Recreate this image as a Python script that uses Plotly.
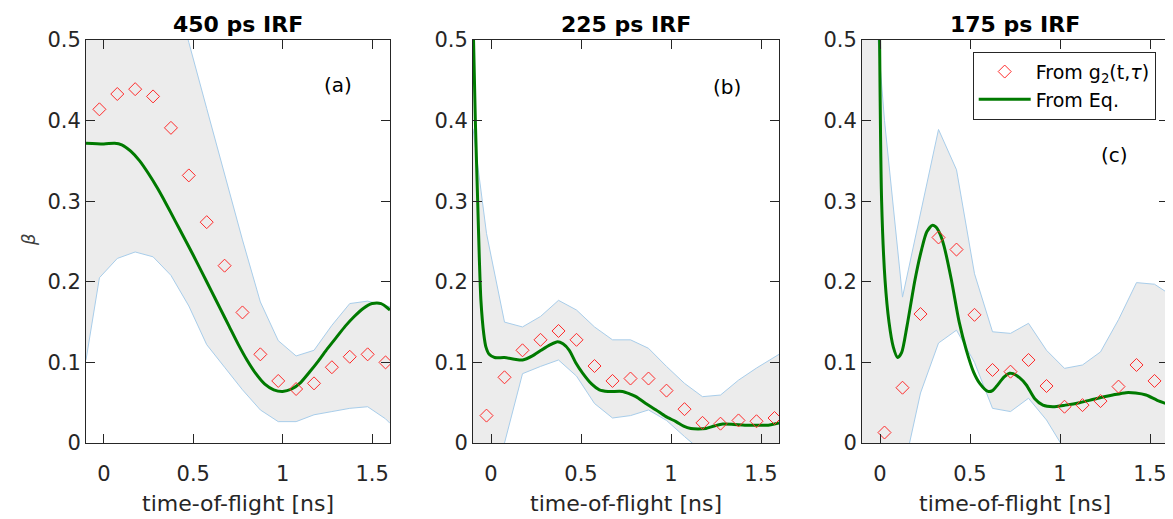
import plotly.graph_objects as go

# ---------------- data ----------------
panel_titles = ["450 ps IRF", "225 ps IRF", "175 ps IRF"]
panel_labels = ["(a)", "(b)", "(c)"]
x_ticks = [0, 0.5, 1, 1.5]
x_tick_text = ["0", "0.5", "1", "1.5"]
y_ticks = [0, 0.1, 0.2, 0.3, 0.4, 0.5]
y_tick_text = ["0", "0.1", "0.2", "0.3", "0.4", "0.5"]

# panel (a)
a_marker_t = [-0.025, 0.075, 0.175, 0.275, 0.375, 0.475, 0.575, 0.675, 0.775,
              0.875, 0.975, 1.075, 1.175, 1.275, 1.375, 1.475, 1.575]
a_marker_b = [0.414, 0.433, 0.439, 0.430, 0.391, 0.332, 0.274, 0.220, 0.162,
              0.110, 0.077, 0.067, 0.074, 0.094, 0.107, 0.110, 0.100]
a_line_t = [-0.1, 0.0, 0.06, 0.1, 0.15, 0.2, 0.25, 0.3, 0.35, 0.4, 0.45, 0.5, 0.55,
            0.6, 0.65, 0.7, 0.75, 0.8, 0.85, 0.9, 0.95, 1.0, 1.05, 1.1, 1.15, 1.2,
            1.25, 1.3, 1.35, 1.4, 1.45, 1.5, 1.55, 1.6]
a_line_b = [0.372, 0.371, 0.372, 0.370, 0.362, 0.350, 0.334, 0.316, 0.296, 0.275,
            0.254, 0.233, 0.211, 0.189, 0.167, 0.145, 0.123, 0.103, 0.086, 0.073,
            0.066, 0.064, 0.067, 0.075, 0.088, 0.102, 0.117, 0.131, 0.145, 0.157,
            0.167, 0.173, 0.173, 0.165]
a_band_t = [-0.1, -0.025, 0.075, 0.175, 0.275, 0.375, 0.475, 0.575, 0.675, 0.775,
            0.875, 0.975, 1.075, 1.175, 1.275, 1.375, 1.475, 1.575, 1.6]
a_band_hi = [0.90, 0.86, 0.80, 0.74, 0.66, 0.58, 0.497, 0.415, 0.334, 0.252,
             0.175, 0.127, 0.108, 0.115, 0.146, 0.173, 0.176, 0.170, 0.169]
a_band_lo = [0.103, 0.205, 0.229, 0.237, 0.231, 0.208, 0.170, 0.122, 0.094, 0.066,
             0.041, 0.0265, 0.0265, 0.035, 0.039, 0.043, 0.045, 0.030, 0.0244]

# panel (b)
b_marker_t = a_marker_t
b_marker_b = [0.034, 0.0815, 0.115, 0.128, 0.139, 0.128, 0.0955, 0.077, 0.080,
              0.080, 0.065, 0.042, 0.025, 0.024, 0.028, 0.027, 0.031]
b_line_t = [-0.099, -0.087, -0.074, -0.065, -0.056, -0.04, -0.028, -0.01, 0.02, 0.074,
            0.13, 0.176, 0.23, 0.278, 0.33, 0.37, 0.40, 0.435, 0.47, 0.51, 0.56, 0.602,
            0.65, 0.73, 0.77, 0.805, 0.86, 0.917, 0.97, 1.028, 1.07, 1.11, 1.15, 1.194,
            1.24, 1.287, 1.35, 1.41, 1.47, 1.53, 1.6]
b_line_b = [0.52, 0.40, 0.30, 0.23, 0.177, 0.135, 0.119, 0.110, 0.106, 0.106,
            0.104, 0.103, 0.108, 0.115, 0.122, 0.1257, 0.123, 0.115, 0.100, 0.0865, 0.073, 0.066,
            0.064, 0.064, 0.061, 0.0575, 0.049, 0.041, 0.033, 0.0265, 0.021, 0.018, 0.0175, 0.018,
            0.021, 0.0236, 0.023, 0.022, 0.022, 0.022, 0.025]
b_band_t = a_band_t
b_band_hi = [0.39, 0.26, 0.150, 0.144, 0.157, 0.177, 0.165, 0.144, 0.128, 0.128,
             0.1175, 0.095, 0.074, 0.0575, 0.0595, 0.078, 0.093, 0.107, 0.110]
b_band_lo = [-0.20, -0.09, 0.0, 0.086, 0.095, 0.103, 0.083, 0.049, 0.031, 0.034,
             0.041, 0.028, 0.008, -0.012, -0.03, -0.04, -0.05, -0.06, -0.065]

# panel (c)
c_marker_t = [0.025, 0.125, 0.225, 0.325, 0.425, 0.525, 0.625, 0.725, 0.825,
              0.925, 1.025, 1.125, 1.225, 1.325, 1.425, 1.525]
c_marker_b = [0.013, 0.0686, 0.160, 0.255, 0.240, 0.159, 0.0906, 0.0885, 0.103,
              0.0707, 0.045, 0.047, 0.052, 0.070, 0.0968, 0.077]
c_line_t = [-0.003, 0.009, 0.028, 0.05, 0.074, 0.098, 0.12, 0.15, 0.194, 0.231, 0.26,
            0.29, 0.31, 0.332, 0.355, 0.397, 0.44, 0.48, 0.52, 0.554, 0.6, 0.625, 0.646,
            0.69, 0.72, 0.739, 0.775, 0.813, 0.86, 0.905, 0.96, 1.03, 1.108, 1.2, 1.293,
            1.367, 1.42, 1.478, 1.54, 1.6]
c_line_b = [0.52, 0.30, 0.202, 0.150, 0.119, 0.106, 0.112, 0.145, 0.202, 0.240, 0.262,
            0.270, 0.268, 0.260, 0.245, 0.202, 0.150, 0.115, 0.088, 0.074, 0.064, 0.065, 0.070,
            0.082, 0.0865, 0.086, 0.081, 0.072, 0.055, 0.047, 0.045, 0.047, 0.050, 0.055, 0.0595,
            0.0625, 0.062, 0.0595, 0.053, 0.048]
c_band_t = [-0.1, 0.025, 0.125, 0.225, 0.325, 0.425, 0.525, 0.625, 0.725, 0.825,
            0.925, 1.025, 1.125, 1.225, 1.325, 1.425, 1.525, 1.6]
c_band_hi = [0.75, 0.40, 0.181, 0.285, 0.389, 0.339, 0.210, 0.138, 0.136, 0.1485,
             0.115, 0.0926, 0.0968, 0.113, 0.153, 0.199, 0.197, 0.186]
c_band_lo = [-0.30, -0.20, -0.04, 0.062, 0.124, 0.140, 0.100, 0.043, 0.039, 0.0555,
             0.0285, -0.008, -0.05, -0.06, -0.07, -0.08, -0.09, -0.10]

panels = [
    (a_marker_t, a_marker_b, a_line_t, a_line_b, a_band_t, a_band_hi, a_band_lo),
    (b_marker_t, b_marker_b, b_line_t, b_line_b, b_band_t, b_band_hi, b_band_lo),
    (c_marker_t, c_marker_b, c_line_t, c_line_b, c_band_t, c_band_hi, c_band_lo),
]
label_pos = [(1.307, 0.444), (1.313, 0.442), (1.302, 0.357)]

# ---------------- style ----------------
W, H = 1173, 519
OFF = 8  # page body margin
FONT = "DejaVu Sans"
AX = "#262626"
GREEN = "#007a00"
RED = "#ff2a2a"
EDGE = "#a8cdea"
FILL = "#ececec"


def px(xp):
    return (xp - OFF) / W


def py(yp):
    return 1 - (yp - OFF) / H


x_dom_px = [(86, 390), (473, 779), (862, 1168)]
y_dom = [py(443), py(40)]

fig = go.Figure()
for i, (mt, mb, lt, lb, bt, bh, bl) in enumerate(panels):
    xa = "x" if i == 0 else f"x{i+1}"
    ya = "y" if i == 0 else f"y{i+1}"
    fig.add_trace(go.Scatter(x=list(bt) + list(bt)[::-1], y=list(bh) + list(bl)[::-1],
                             fill="toself", fillcolor=FILL, mode="lines",
                             line=dict(width=0), hoverinfo="skip", showlegend=False,
                             xaxis=xa, yaxis=ya))
    fig.add_trace(go.Scatter(x=bt, y=bh, mode="lines", line=dict(color=EDGE, width=1),
                             showlegend=False, xaxis=xa, yaxis=ya))
    fig.add_trace(go.Scatter(x=bt, y=bl, mode="lines", line=dict(color=EDGE, width=1),
                             showlegend=False, xaxis=xa, yaxis=ya))
    fig.add_trace(go.Scatter(x=lt, y=lb, mode="lines", name="From Eq.",
                             line=dict(color=GREEN, width=3, shape="spline", smoothing=0.7),
                             showlegend=(i == 2), legendrank=2, xaxis=xa, yaxis=ya))
    fig.add_trace(go.Scatter(x=mt, y=mb, mode="markers", name="From g<sub>2</sub>(t,<i>τ</i>)",
                             marker=dict(symbol="diamond-open", size=10, color=RED,
                                         line=dict(color=RED, width=1)),
                             showlegend=(i == 2), legendrank=1, xaxis=xa, yaxis=ya))

    x0, x1 = x_dom_px[i]
    axcommon = dict(showline=True, linecolor=AX, linewidth=1, mirror="ticks",
                    ticks="inside", ticklen=9, tickcolor=AX, tickwidth=1,
                    showgrid=False, zeroline=False, automargin=False,
                    tickfont=dict(family=FONT, size=21, color=AX))
    fig.update_layout(**{
        ("xaxis" if i == 0 else f"xaxis{i+1}"): dict(
            domain=[px(x0), px(x1)], range=[-0.1, 1.6], anchor=ya,
            tickvals=x_ticks, ticktext=x_tick_text, ticklabelstandoff=12, **axcommon),
        ("yaxis" if i == 0 else f"yaxis{i+1}"): dict(
            domain=y_dom, range=[0, 0.5], anchor=xa,
            tickvals=y_ticks, ticktext=y_tick_text, ticklabelstandoff=0, **axcommon),
    })
    cx = px((x0 + x1) / 2)
    fig.add_annotation(x=cx, y=py(25), xref="paper", yref="paper",
                       text=f"<b>{panel_titles[i]}</b>", showarrow=False,
                       font=dict(family=FONT, size=22, color="black"),
                       xanchor="center", yanchor="middle")
    fig.add_annotation(x=cx, y=py(503), xref="paper", yref="paper",
                       text="time-of-flight [ns]", showarrow=False,
                       font=dict(family=FONT, size=22, color=AX),
                       xanchor="center", yanchor="middle")
    lx, ly = label_pos[i]
    fig.add_annotation(x=lx, y=ly, xref=xa, yref=ya, text=panel_labels[i],
                       showarrow=False, font=dict(family=FONT, size=20, color="black"),
                       xanchor="center", yanchor="middle")

fig.add_annotation(x=px(28), y=py(240), xref="paper", yref="paper",
                   text="<i>β</i>", textangle=-90, showarrow=False,
                   font=dict(family=FONT, size=18, color="#404040"),
                   xanchor="center", yanchor="middle")

fig.update_layout(
    width=W, height=H, autosize=False,
    margin=dict(l=0, r=0, t=0, b=0, pad=0, autoexpand=False),
    paper_bgcolor="white", plot_bgcolor="white",
    legend=dict(x=px(972.7), y=py(51.7), xanchor="left", yanchor="top",
                bgcolor="white", bordercolor=AX, borderwidth=1,
                font=dict(family=FONT, size=19, color="black"),
                traceorder="normal", itemwidth=52),
)

fig.write_html("out.html")
